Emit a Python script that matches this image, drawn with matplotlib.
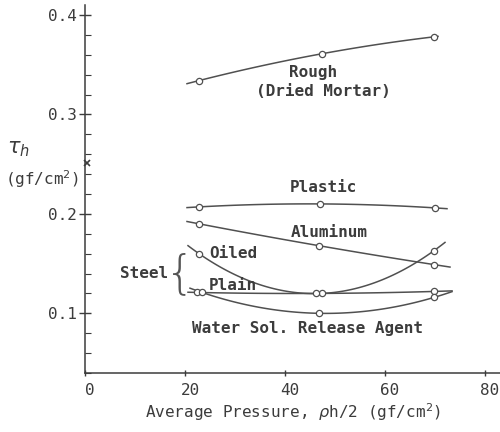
import numpy as np
import matplotlib
matplotlib.use("Agg")
import matplotlib.pyplot as plt
from matplotlib.transforms import ScaledTranslation
from matplotlib.ticker import MultipleLocator

# values (circles), x = average pressure, y = tau_h
rough_x = [22.8, 47.4, 69.8]
rough_y = [0.334, 0.361, 0.378]
plastic_x = [22.8, 47.0, 70.0]
plastic_y = [0.207, 0.210, 0.206]
alum_x = [22.8, 46.8, 69.8]
alum_y = [0.190, 0.168, 0.149]
oiled_x = [22.8, 47.4, 69.8]
oiled_y = [0.160, 0.120, 0.163]
plain_x = [22.4, 46.2, 69.8]
plain_y = [0.121, 0.120, 0.122]
water_x = [23.4, 46.8, 69.8]
water_y = [0.121, 0.100, 0.116]

# x range covered by each hand-drawn fit curve
spans = {
    "rough": (20.4, 70.6),
    "plastic": (20.4, 72.4),
    "alum": (20.4, 73.0),
    "oiled": (20.6, 72.0),
    "plain": (20.6, 73.4),
    "water": (21.0, 73.4),
}

series = [
    ("rough", rough_x, rough_y),
    ("plastic", plastic_x, plastic_y),
    ("alum", alum_x, alum_y),
    ("oiled", oiled_x, oiled_y),
    ("plain", plain_x, plain_y),
    ("water", water_x, water_y),
]

ink = "#3c3c3c"
line_c = "#505050"
mono = "DejaVu Sans Mono"
fs = 11.5

fig = plt.figure(figsize=(5, 4.32), dpi=100)
ax = fig.add_axes([0.17, 59 / 432, 0.83, 368 / 432])

for name, xs, ys in series:
    coef = np.polyfit(xs, ys, 2)
    x0, x1 = spans[name]
    xx = np.linspace(x0, x1, 100)
    ax.plot(xx, np.polyval(coef, xx), color=line_c, lw=1.1)
    ax.plot(xs, ys, "o", ms=4.5, mfc="white", mec=line_c, mew=0.9, zorder=3)

ax.set_xlim(0, 83)
ax.set_ylim(0.04, 0.41)

for s in ["top", "right"]:
    ax.spines[s].set_visible(False)
for s in ["left", "bottom"]:
    ax.spines[s].set_color(ink)
    ax.spines[s].set_linewidth(1.1)

ax.set_xticks([0, 20, 40, 60, 80])
ax.set_yticks([0.1, 0.2, 0.3, 0.4])
ax.set_yticklabels(["0.1", "0.2", "0.3", "0.4"])
ax.yaxis.set_minor_locator(MultipleLocator(0.02))
ax.tick_params(axis="x", direction="inout", length=5, width=1, colors=ink,
               labelsize=fs, pad=5)
ax.tick_params(axis="y", which="major", direction="inout", length=8, width=1,
               colors=ink, labelsize=fs, pad=2)
ax.tick_params(axis="y", which="minor", direction="in", length=4, width=0.8,
               colors=ink)
for lab in ax.get_xticklabels() + ax.get_yticklabels():
    lab.set_fontfamily(mono)
    lab.set_color(ink)
for lab in ax.get_xticklabels():
    lab.set_transform(lab.get_transform() + ScaledTranslation(0.05, 0, fig.dpi_scale_trans))

# axis break mark
ax.plot([0.4], [0.251], marker="x", ms=5, mew=1.2, color=ink, clip_on=False, zorder=4)

ax.set_xlabel("Average Pressure, $\\rho$h/2 (gf/cm$^2$)", fontfamily=mono,
              fontsize=fs, color=ink, labelpad=2)

fig.text(0.014, 0.655, r"$\tau_h$", fontsize=15, color=ink, ha="left", va="center")
fig.text(0.010, 0.585, "(gf/cm$^2$)", fontfamily=mono, fontsize=fs, color=ink,
         ha="left", va="center")

tk = dict(fontfamily=mono, fontsize=fs, color=ink, fontweight="bold")
ax.text(45.6, 0.342, "Rough", ha="center", va="center", **tk)
ax.text(47.6, 0.3226, "(Dried Mortar)", ha="center", va="center", **tk)
ax.text(47.6, 0.227, "Plastic", ha="center", va="center", **tk)
ax.text(48.8, 0.1816, "Aluminum", ha="center", va="center", **tk)
ax.text(24.8, 0.160, "Oiled", ha="left", va="center", **tk)
ax.text(24.8, 0.128, "Plain", ha="left", va="center", **tk)
ax.text(16.6, 0.140, "Steel", ha="right", va="center", **tk)
ax.text(19.0, 0.139, "{", ha="center", va="center", fontsize=34,
        color="#555555", fontweight="light")
ax.text(21.4, 0.085, "Water Sol. Release Agent", ha="left", va="center", **tk)

fig.savefig("out.png", dpi=100)
